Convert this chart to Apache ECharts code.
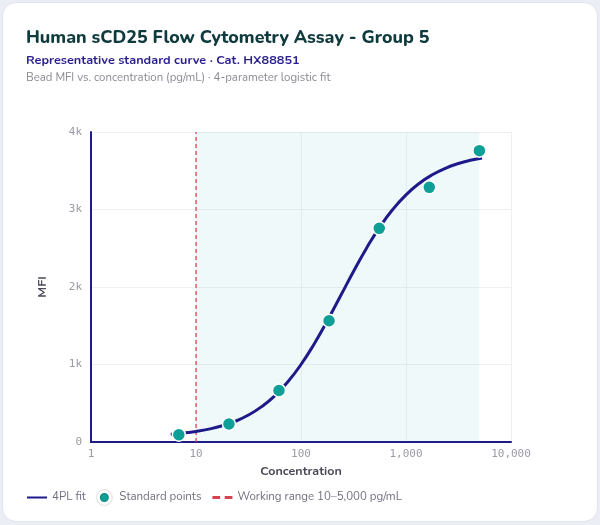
<!DOCTYPE html>
<html>
<head>
<meta charset="utf-8">
<script src="https://cdn.jsdelivr.net/npm/echarts@6/dist/echarts.min.js"></script>
<style>
html,body{margin:0;padding:0;background:#eceef5;}
#card{position:absolute;left:2px;top:2px;width:594px;height:518px;background:#fff;border:1px solid #e2e4ec;border-radius:14px;overflow:hidden;}
#chart{width:594px;height:518px;}
</style>
</head>
<body>
<div id="card"><div id="chart"></div></div>
<script>
// Standard points (concentration pg/mL, MFI)
const stdConc = [6.86, 20.6, 61.7, 185, 556, 1667, 5000];
const stdMFI  = [94, 232, 665, 1565, 2757, 3286, 3759];
// 4PL fit curve
const fitConc = [5.75, 7.5, 10, 13.3, 17.8, 23.7, 31.6, 42.2, 56.2, 75, 100, 133, 178, 237, 316, 422, 562, 750, 1000, 1334, 1778, 2371, 3162, 4217, 5300];
const fitMFI  = [99, 114, 136, 166, 209, 268, 348, 456, 596, 777, 1000, 1262, 1564, 1880, 2200, 2504, 2773, 3003, 3189, 3336, 3448, 3532, 3593, 3638, 3665];
// Working range
const rangeLow = 10, rangeHigh = 5000;
const xTicks = [1, 10, 100, 1000, 10000];
const yTicks = [0, 1000, 2000, 3000, 4000];

const navy = '#1f1a8a', teal = '#0e9f97', red = '#d9434f';
const font = 'Nunito, Lato, "Noto Sans", sans-serif';
const mono = '"DejaVu Sans Mono", "Liberation Mono", monospace';

const chart = echarts.init(document.getElementById('chart'));
chart.setOption({
  animation: false,
  title: [
    {text: 'Human sCD25 Flow Cytometry Assay - Group 5', left: 18, top: 22,
     textStyle: {fontFamily: font, fontSize: 17.8, fontWeight: 800, color: '#0f3a3e'}},
    {text: 'Representative standard curve · Cat. HX88851', left: 18, top: 46,
     textStyle: {fontFamily: font, fontSize: 12.7, fontWeight: 700, color: '#2a1f8f'}},
    {text: 'Bead MFI vs. concentration (pg/mL) · 4-parameter logistic fit', left: 18, top: 65,
     textStyle: {fontFamily: font, fontSize: 11.4, fontWeight: 400, color: '#8a8a94'}}
  ],
  grid: {left: 88, right: 86, top: 129, bottom: 79},
  legend: {
    left: 19, top: 482, itemWidth: 20, itemHeight: 12, itemGap: 11,
    textStyle: {fontFamily: font, fontSize: 11.5, color: '#707080'},
    data: [
      {name: '4PL fit', icon: 'path://M0,5 L20,5 L20,7 L0,7 Z', itemStyle: {color: navy}},
      {name: 'Standard points', icon: 'circle', itemStyle: {color: teal, borderColor: '#fff', borderWidth: 3, shadowColor: 'rgba(0,0,0,0.35)', shadowBlur: 2}},
      {name: 'Working range 10–5,000 pg/mL', icon: 'path://M0,5 L5,5 L5,7 L0,7 Z M8,5 L13,5 L13,7 L8,7 Z', itemStyle: {color: red}}
    ]
  },
  xAxis: {
    type: 'log', logBase: 10, min: xTicks[0], max: xTicks[xTicks.length - 1],
    name: 'Concentration', nameLocation: 'middle', nameGap: 23,
    nameTextStyle: {fontFamily: font, fontSize: 12.5, fontWeight: 700, color: '#4a4a58'},
    axisLine: {show: true, lineStyle: {color: navy, width: 2}},
    axisTick: {show: false},
    axisLabel: {fontFamily: mono, fontSize: 11, color: '#9a9aa6', margin: 7,
      formatter: v => Number(v).toLocaleString('en-US')},
    splitLine: {show: true, lineStyle: {color: '#eef0f4', width: 1}},
    minorSplitLine: {show: false}
  },
  yAxis: {
    type: 'value', min: yTicks[0], max: yTicks[yTicks.length - 1], interval: 1000,
    name: 'MFI', nameLocation: 'middle', nameGap: 42,
    nameTextStyle: {fontFamily: font, fontSize: 12.5, fontWeight: 700, color: '#4a4a58'},
    axisLine: {show: true, lineStyle: {color: navy, width: 2}},
    axisTick: {show: false},
    axisLabel: {fontFamily: mono, fontSize: 11, color: '#9a9aa6', margin: 9,
      formatter: v => v === 0 ? '0' : (v / 1000) + 'k'},
    splitLine: {show: true, lineStyle: {color: '#eef0f4', width: 1}}
  },
  series: [
    {
      name: 'Working range 10–5,000 pg/mL', type: 'line', symbol: 'none', z: 1,
      data: [[rangeLow, yTicks[0]], [rangeLow, yTicks[yTicks.length - 1]]],
      lineStyle: {color: red, width: 1.5, type: [4, 3], opacity: 0.85},
      itemStyle: {color: red},
      markArea: {silent: true, itemStyle: {color: 'rgba(20,160,170,0.065)'},
        data: [[{xAxis: rangeLow, yAxis: yTicks[0]}, {xAxis: rangeHigh, yAxis: yTicks[yTicks.length - 1]}]]}
    },
    {
      name: '4PL fit', type: 'line', smooth: true, symbol: 'none', z: 3,
      data: fitConc.map((c, i) => [c, fitMFI[i]]),
      lineStyle: {color: navy, width: 3}, itemStyle: {color: navy}
    },
    {
      name: 'Standard points', type: 'scatter', symbolSize: 13, z: 4,
      data: stdConc.map((c, i) => [c, stdMFI[i]]),
      itemStyle: {color: teal, borderColor: '#fff', borderWidth: 1.5, opacity: 1}
    }
  ]
});
</script>
</body>
</html>
